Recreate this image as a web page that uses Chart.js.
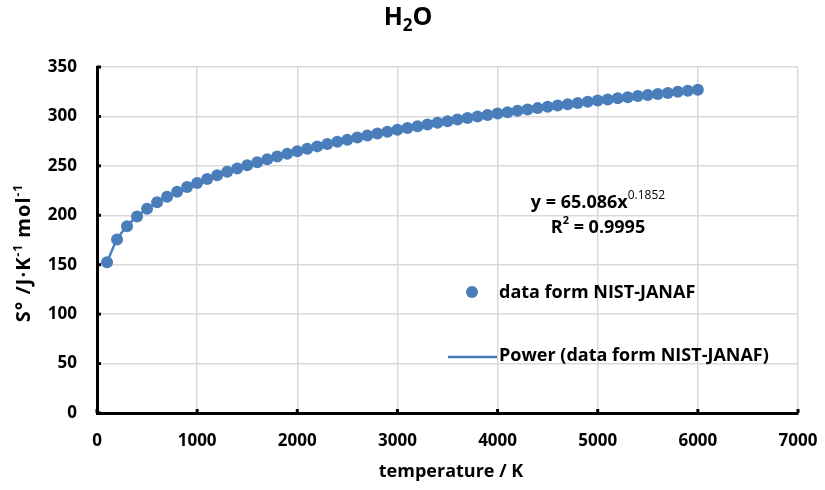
<!DOCTYPE html>
<html>
<head>
<meta charset="utf-8">
<script src="https://cdn.jsdelivr.net/npm/chart.js@4.4.1/dist/chart.umd.min.js"></script>
<style>
  html, body { margin: 0; padding: 0; background: #fff; }
  #wrap { width: 825px; height: 490px; position: relative; }
</style>
</head>
<body>
<div id="wrap"><canvas id="entropyChart"></canvas></div>
<script>
// Temperature (K) and standard entropy S° (J/K/mol) of H2O, NIST-JANAF
const temperatures = [
    100, 200, 300, 400, 500, 600, 700, 800, 900, 1000,
    1100, 1200, 1300, 1400, 1500, 1600, 1700, 1800, 1900, 2000,
    2100, 2200, 2300, 2400, 2500, 2600, 2700, 2800, 2900, 3000,
    3100, 3200, 3300, 3400, 3500, 3600, 3700, 3800, 3900, 4000,
    4100, 4200, 4300, 4400, 4500, 4600, 4700, 4800, 4900, 5000,
    5100, 5200, 5300, 5400, 5500, 5600, 5700, 5800, 5900, 6000
];
const entropy = [
    152.4, 175.5, 189.0, 198.8, 206.5, 213.1, 218.7, 223.8, 228.5, 232.7,
    236.7, 240.5, 244.0, 247.4, 250.6, 253.7, 256.6, 259.5, 262.2, 264.8,
    267.3, 269.7, 272.0, 274.3, 276.5, 278.6, 280.7, 282.7, 284.6, 286.5,
    288.3, 290.1, 291.9, 293.6, 295.2, 296.8, 298.4, 299.9, 301.4, 302.9,
    304.3, 305.7, 307.1, 308.4, 309.8, 311.1, 312.3, 313.6, 314.8, 316.0,
    317.2, 318.3, 319.5, 320.6, 321.7, 322.8, 323.8, 324.9, 325.9, 326.9
];
const xTicks = [0, 1000, 2000, 3000, 4000, 5000, 6000, 7000];
const yTicks = [0, 50, 100, 150, 200, 250, 300, 350];

const seriesName = 'data form NIST-JANAF';
const trendName = 'Power (data form NIST-JANAF)';
const blue = '#4a7ebb';
const FONT = '"Open Sans", "Liberation Sans", sans-serif';

const points = temperatures.map((t, i) => ({ x: t, y: entropy[i] }));

// extra texts: title, axis titles, legend, trendline equation, inner tick marks
const decorations = {
    id: 'decorations',
    afterDraw(chart) {
        const ctx = chart.ctx;
        const xs = chart.scales.x, ys = chart.scales.y;
        ctx.save();
        ctx.fillStyle = '#000';

        // inner tick marks
        ctx.strokeStyle = '#000';
        ctx.lineWidth = 3;
        xTicks.forEach(v => {
            const px = xs.getPixelForValue(v);
            ctx.beginPath(); ctx.moveTo(px, ys.bottom); ctx.lineTo(px, ys.bottom - 4); ctx.stroke();
        });
        yTicks.forEach(v => {
            const py = ys.getPixelForValue(v);
            ctx.beginPath(); ctx.moveTo(xs.left, py); ctx.lineTo(xs.left + 4, py); ctx.stroke();
        });

        // title H2O
        ctx.textBaseline = 'alphabetic';
        ctx.textAlign = 'left';
        ctx.font = 'bold 25px ' + FONT;
        const wH = ctx.measureText('H').width;
        ctx.font = 'bold 17px ' + FONT;
        const w2 = ctx.measureText('2').width;
        ctx.font = 'bold 25px ' + FONT;
        const wO = ctx.measureText('O').width;
        let tx = 408 - (wH + w2 + wO) / 2;
        ctx.fillText('H', tx, 25);
        ctx.font = 'bold 17px ' + FONT;
        ctx.fillText('2', tx + wH, 31);
        ctx.font = 'bold 25px ' + FONT;
        ctx.fillText('O', tx + wH + w2, 25);

        // x axis title
        ctx.font = 'bold 18px ' + FONT;
        ctx.textAlign = 'center';
        ctx.textBaseline = 'middle';
        ctx.fillText('temperature / K', 451, 472);

        // y axis title with superscripts
        ctx.save();
        ctx.translate(23, 253);
        ctx.rotate(-Math.PI / 2);
        ctx.letterSpacing = '1px';
        const parts = [
            ['S° /J·K', 20, 0], ['-1', 12, -8], [' mol', 20, 0], ['-1', 12, -8]
        ];
        let total = 0;
        parts.forEach(p => { ctx.font = 'bold ' + p[1] + 'px ' + FONT; total += ctx.measureText(p[0]).width; });
        let px = -total / 2;
        ctx.textAlign = 'left';
        ctx.textBaseline = 'alphabetic';
        parts.forEach(p => {
            ctx.font = 'bold ' + p[1] + 'px ' + FONT;
            ctx.fillText(p[0], px, 7 + p[2]);
            px += ctx.measureText(p[0]).width;
        });
        ctx.restore();

        // trendline equation
        ctx.textAlign = 'left';
        ctx.textBaseline = 'alphabetic';
        ctx.font = 'bold 18px ' + FONT;
        const e1 = 'y = 65.086x';
        const we1 = ctx.measureText(e1).width;
        ctx.font = '12px ' + FONT;
        const we2 = ctx.measureText('0.1852').width;
        let ex = 598 - (we1 + we2) / 2;
        ctx.font = 'bold 18px ' + FONT;
        ctx.fillText(e1, ex, 208);
        ctx.font = '12px ' + FONT;
        ctx.fillText('0.1852', ex + we1, 199);
        ctx.font = 'bold 18px ' + FONT;
        const r1 = ctx.measureText('R').width;
        ctx.font = 'bold 11px ' + FONT;
        const r2 = ctx.measureText('2').width;
        ctx.font = 'bold 18px ' + FONT;
        const r3 = ctx.measureText(' = 0.9995').width;
        ex = 598 - (r1 + r2 + r3) / 2;
        ctx.fillText('R', ex, 233);
        ctx.font = 'bold 11px ' + FONT;
        ctx.fillText('2', ex + r1, 224);
        ctx.font = 'bold 18px ' + FONT;
        ctx.fillText(' = 0.9995', ex + r1 + r2, 233);

        // legend
        ctx.fillStyle = blue;
        ctx.beginPath(); ctx.arc(472, 292, 6, 0, Math.PI * 2); ctx.fill();
        ctx.strokeStyle = blue;
        ctx.lineWidth = 2.5;
        ctx.beginPath(); ctx.moveTo(448, 357); ctx.lineTo(497, 357); ctx.stroke();
        ctx.fillStyle = '#000';
        ctx.font = 'bold 18px ' + FONT;
        ctx.textBaseline = 'middle';
        ctx.fillText(seriesName, 499, 293);
        ctx.fillText(trendName, 499, 356);
        ctx.restore();
    }
};

new Chart(document.getElementById('entropyChart'), {
    type: 'scatter',
    data: {
        datasets: [{
            label: seriesName,
            data: points,
            backgroundColor: blue,
            borderColor: blue,
            pointRadius: 6,
            pointBorderWidth: 0,
            showLine: false,
            order: 1
        }, {
            label: trendName,
            data: points,
            borderColor: blue,
            borderWidth: 2.5,
            pointRadius: 0,
            showLine: true,
            tension: 0.4,
            order: 2
        }]
    },
    options: {
        responsive: true,
        maintainAspectRatio: false,
        animation: false,
        layout: { padding: { top: 67, right: 27, left: 0, bottom: 0 } },
        plugins: {
            legend: { display: false },
            title: { display: false },
            tooltip: { enabled: false }
        },
        scales: {
            x: {
                type: 'linear',
                min: 0, max: 7000,
                afterBuildTicks(scale) { scale.ticks = xTicks.map(v => ({ value: v })); },
                afterFit(scale) {
                    scale.height = 77;
                    scale.paddingLeft = 0;
                    scale.paddingRight = 0;
                },
                grid: { color: '#d9d9d9', lineWidth: 1.5, tickLength: 0, drawTicks: false },
                border: { color: '#000', width: 3 },
                ticks: {
                    color: '#000', padding: 18,
                    font: { family: FONT, size: 17, weight: 'bold' },
                    callback: v => String(v)
                }
            },
            y: {
                type: 'linear',
                min: 0, max: 350,
                afterBuildTicks(scale) { scale.ticks = yTicks.map(v => ({ value: v })); },
                afterFit(scale) {
                    scale.width = 97;
                    scale.paddingTop = 0;
                    scale.paddingBottom = 0;
                },
                grid: { color: '#d9d9d9', lineWidth: 1.5, tickLength: 0, drawTicks: false },
                border: { color: '#000', width: 3 },
                ticks: {
                    color: '#000', padding: 20,
                    font: { family: FONT, size: 17, weight: 'bold' },
                    callback: v => String(v)
                }
            }
        }
    },
    plugins: [decorations]
});
</script>
</body>
</html>
